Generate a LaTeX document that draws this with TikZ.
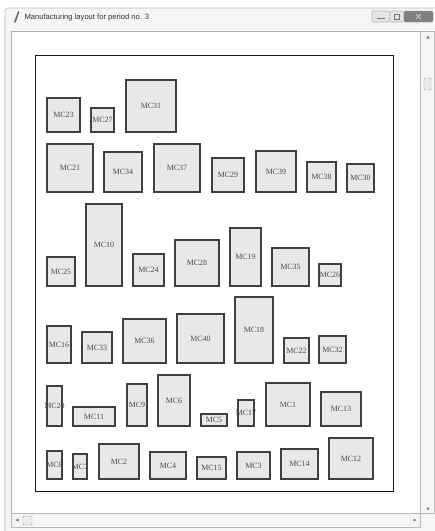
\documentclass[tikz,border=0pt]{standalone}
\usepackage{fontspec}
\setmainfont{Liberation Serif}
\newfontfamily\uifont{Liberation Sans}

\begin{document}
\begin{tikzpicture}[x=1pt, y=-1pt,
  cell/.style={draw=black!75, fill=black!9, line width=1.1pt},
  cellname/.style={font=\fontsize{8}{9}\selectfont, text=black!70, inner sep=0pt},
  chrome/.style={draw=black!28, fill=black!4, line width=0.6pt},
  knob/.style={fill=black!55}]
  \useasboundingbox (0,0) rectangle (435,531);
  % window
  \fill[white] (0,0) rectangle (435,531);
  \draw[chrome, rounded corners=3pt] (5,8) rectangle (440,536);
  \node[font=\uifont\fontsize{7.6}{9}\selectfont, text=black!80, anchor=west] (title) at (21,17.5) {Manufacturing layout for period no. 3};
  \draw[line width=1.6pt, black!60, line cap=round] (15,22) -- (18.5,12);
  \draw[chrome, fill=black!10, rounded corners=1.5pt] (372,11) rectangle (390,22);
  \draw[chrome, fill=black!10, rounded corners=1.5pt] (390,11) rectangle (404,22);
  \draw[draw=black!45, fill=black!50, rounded corners=1.5pt] (404,11) rectangle (433,22);
  \draw[black!55, line width=0.8pt] (377,18.5) -- (385,18.5);
  \draw[black!55, line width=0.6pt] (394.5,14) rectangle (399.5,19);
  \draw[white!80!black, line width=0.8pt] (416,14) -- (421,19) (416,19) -- (421,14);
  % client area and scroll bars
  \draw[draw=black!30, fill=white] (11,31) rectangle (420,513);
  \draw[chrome] (420,31) rectangle (434,513);
  \draw[chrome] (11,513) rectangle (420,527);
  \fill[knob] (426.5,38.5) -- (429.5,38.5) -- (428,35.5) -- cycle;
  \fill[knob] (426.5,507.5) -- (429.5,507.5) -- (428,510.5) -- cycle;
  \fill[knob] (18.5,518.5) -- (18.5,521.5) -- (15.5,520) -- cycle;
  \fill[knob] (413.5,518.5) -- (413.5,521.5) -- (416.5,520) -- cycle;
  \draw[draw=black!35, fill=black!8, rounded corners=1pt] (424,78) rectangle (431,90);
  \draw[draw=black!35, fill=black!8, rounded corners=1pt] (23,516) rectangle (32,525);
  % layout frame
  \draw[line width=0.9pt, black!90] (35,55) rectangle (393,491);
  % machine cells
  \foreach \n/\xa/\ya/\xb/\yb in {
      31/126/80/176/132, 23/47/98/80/132, 27/91/108/114/132,
      21/47/144/93/192, 34/104/152/142/192, 37/154/144/200/192,
      29/212/158/244/192, 39/256/151/296/192, 38/307/162/336/192,
      30/347/164/374/192,
      25/47/257/75/286, 10/86/204/122/286, 24/133/254/164/286,
      28/175/240/219/286, 19/230/228/261/286, 35/272/248/309/286,
      26/319/264/341/286,
      16/47/326/71/363, 33/82/332/112/363, 36/123/319/166/363,
      40/177/314/224/363, 18/235/297/273/363, 22/284/338/309/363,
      32/319/336/346/363,
      20/47/386/62/426, 11/73/407/115/426, 9/127/384/147/426,
      6/158/375/190/426, 5/201/414/227/426, 17/238/400/254/426,
      1/266/383/310/426, 13/321/392/361/426,
      8/47/451/62/479, 7/73/454/87/479, 2/99/444/139/479,
      4/150/452/186/479, 15/197/457/226/479, 3/237/452/270/479,
      14/281/449/318/479, 12/329/438/373/479}
    \draw[cell] (\xa,\ya) rectangle node[cellname] (mc\n) {MC\n} (\xb,\yb);
\end{tikzpicture}
\end{document}
